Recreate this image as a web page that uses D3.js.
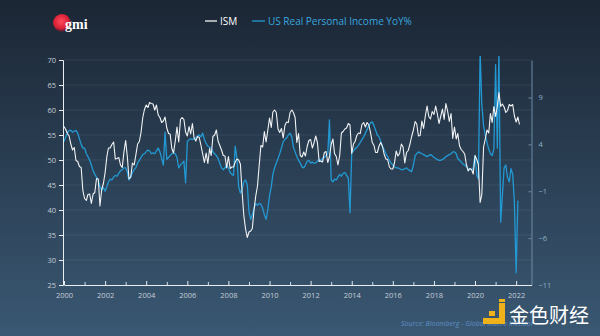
<!DOCTYPE html>
<html><head><meta charset="utf-8">
<script src="https://cdn.jsdelivr.net/npm/d3@7"></script>
<style>html,body{margin:0;padding:0;background:#1c2837;}svg{display:block;}</style>
</head><body>
<svg id="c" width="600" height="336"></svg>
<script>
// ---- DATA (monthly, starting Jan 2000) ----
const startDate = "2000-01-01";
const ismValues = [
 56.7,56.1,55.3,54.8,53.2,52.0,52.5,49.9,49.7,48.7,48.5,43.9,
 42.3,41.9,43.1,43.2,41.3,43.2,43.5,46.3,46.2,40.8,44.1,45.3,
 47.5,50.7,52.4,52.4,53.1,53.6,50.2,50.3,50.5,49.0,48.5,51.6,
 53.9,50.5,46.2,46.6,49.4,49.0,51.0,53.2,53.7,55.5,58.5,60.1,
 61.0,60.5,61.5,61.3,61.2,60.0,61.0,59.0,58.5,57.5,57.8,58.6,
 56.4,55.3,55.2,52.3,51.4,53.8,56.6,53.6,58.1,58.5,58.1,55.6,
 54.8,56.7,55.2,57.3,54.4,53.8,54.7,54.5,52.9,51.2,49.5,51.4,
 49.3,52.3,50.9,54.7,55.0,56.0,53.8,52.9,52.0,50.9,50.8,48.4,
 50.7,48.3,48.6,48.6,49.6,50.2,50.0,49.2,43.5,38.9,36.2,34.5,
 35.6,35.8,36.3,40.1,42.8,44.8,48.9,52.9,52.6,55.7,53.6,55.9,
 58.4,56.5,59.6,60.0,59.5,56.2,55.5,56.3,54.4,56.9,57.6,57.5,
 59.5,60.0,59.5,58.5,53.5,55.3,50.9,50.6,51.6,50.8,52.7,53.9,
 54.1,52.4,53.4,54.8,53.5,49.7,49.8,49.6,51.5,51.7,49.5,50.7,
 53.1,54.2,51.3,50.7,49.0,50.9,55.4,55.7,56.2,56.4,57.3,57.0,
 51.3,53.2,53.7,54.9,55.4,55.3,57.1,57.5,56.6,57.5,57.0,55.5,
 53.5,52.9,51.5,51.5,52.8,53.5,52.7,51.1,50.2,50.1,48.6,48.2,
 48.2,49.5,51.8,50.8,51.3,53.2,52.6,49.4,51.5,51.9,53.2,54.7,
 56.0,57.7,57.2,54.8,54.9,57.8,56.3,58.8,60.8,58.7,58.2,59.7,
 59.1,60.8,59.3,57.3,58.7,60.2,58.1,61.3,59.8,57.7,59.3,54.3,
 56.6,54.2,55.3,52.8,52.1,51.7,51.2,49.1,47.8,48.3,48.1,47.2,
 50.9,50.1,49.1,41.5,43.1,52.6,54.2,56.0,55.4,59.3,57.5,60.7,
 58.7,60.8,63.5,60.7,61.2,60.6,59.5,59.9,61.1,60.8,61.1,58.8,
 57.6,58.6,57.1
];
const incomeValues = [
 4.3,4.8,5.2,5.5,5.5,5.3,5.4,5.5,5.2,4.6,4.0,3.6,
 3.6,3.0,2.7,2.3,1.8,1.2,0.8,0.5,0.2,-0.5,-0.9,-0.6,
 -1.0,-0.5,0.0,0.3,0.2,0.5,0.7,0.6,0.9,1.2,1.3,1.5,
 1.5,1.0,0.2,0.5,1.0,1.3,1.5,2.0,2.3,2.6,2.9,3.0,
 3.2,3.4,3.3,3.0,3.1,3.0,3.3,3.6,3.2,2.5,1.8,5.3,
 2.4,2.6,2.8,3.0,3.1,3.0,2.6,1.5,1.8,2.0,2.2,-0.1,
 4.3,4.5,4.6,4.5,4.6,4.7,4.9,5.0,4.8,5.2,4.5,4.1,
 3.8,3.7,3.6,3.2,3.0,2.8,2.5,2.0,1.5,1.3,1.5,1.8,
 1.5,1.0,0.8,0.7,3.8,2.5,-0.5,-1.2,-0.8,0.0,0.2,-0.3,
 -3.2,-4.0,-3.5,-2.8,-2.3,-2.5,-2.3,-2.4,-2.8,-3.5,-4.0,-3.0,
 -1.5,-0.5,0.8,1.5,2.0,2.5,3.0,3.6,4.3,4.5,4.7,5.0,
 5.2,4.8,3.7,3.2,2.7,2.3,2.0,1.6,1.5,1.8,2.2,2.3,
 2.0,2.1,2.0,2.0,2.2,2.4,2.3,2.5,2.6,2.8,3.0,6.6,
 0.2,0.0,0.3,0.2,0.5,0.8,0.6,0.9,1.0,0.7,0.4,-3.3,
 3.1,3.3,3.5,3.7,3.9,4.2,4.5,4.8,5.2,5.6,6.0,6.3,
 6.4,6.0,5.5,5.0,4.8,4.3,3.8,3.4,3.0,2.7,2.3,2.0,
 1.8,1.6,1.5,1.5,1.4,1.3,1.3,1.4,1.5,1.3,1.2,1.1,
 1.8,2.8,3.0,3.2,3.1,3.0,2.9,2.8,2.7,2.8,2.9,2.8,
 2.6,2.5,2.4,2.3,2.3,2.4,2.5,2.7,2.8,2.9,3.0,3.2,
 3.2,3.0,2.5,2.3,2.1,1.9,1.8,1.6,1.4,1.3,1.3,1.5,
 2.8,0.7,0.3,13.8,8.2,6.0,5.0,4.2,3.5,3.0,2.8,3.5,
 12.5,3.6,13.8,-4.3,-1.5,1.5,1.8,0.5,0.0,1.4,0.8,-2.2,
 -9.7,-2.0
];
const leftTicks = [25,30,35,40,45,50,55,60,65,70];
const rightTicks = [-11,-6,-1,4,9];
const yearLabels = [2000,2002,2004,2006,2008,2010,2012,2014,2016,2018,2020,2022];
const seriesNames = ["ISM","US Real Personal Income YoY%"];
const sourceText = "Source: Bloomberg - Global Macro Investor";
const watermarkText = "金色财经";

// ---- DRAW ----
const svg = d3.select("#c");
const W = 600, H = 336;
const defs = svg.append("defs");
const bg = defs.append("linearGradient").attr("id","bg").attr("x1",0).attr("y1",0).attr("x2",0).attr("y2",1);
bg.append("stop").attr("offset","0%").attr("stop-color","#1b2634");
bg.append("stop").attr("offset","100%").attr("stop-color","#3a5873");
svg.append("rect").attr("width",W).attr("height",H).attr("fill","url(#bg)");

const rg = defs.append("radialGradient").attr("id","logo").attr("cx","45%").attr("cy","40%").attr("r","60%");
rg.append("stop").attr("offset","0%").attr("stop-color","#ff4a5a");
rg.append("stop").attr("offset","70%").attr("stop-color","#d81e35");
rg.append("stop").attr("offset","100%").attr("stop-color","#8a1530").attr("stop-opacity",0.3);

const m = {l:64, r:531.5, t:60, b:285};
const parse = d3.timeParse("%Y-%m-%d");
const t0 = parse(startDate);
const x = d3.scaleTime().domain([t0, parse("2022-10-01")]).range([m.l, m.r]);
const yL = d3.scaleLinear().domain([25,70]).range([m.b, m.t]);
const yR = d3.scaleLinear().domain([-11,13]).range([m.b, m.t]);

const ism = ismValues.map((v,i)=>({d:d3.timeMonth.offset(t0,i), v}));
const inc = incomeValues.map((v,i)=>({d:d3.timeMonth.offset(t0,i), v}));

// grid
svg.append("g").selectAll("line").data(leftTicks.slice(1)).join("line")
  .attr("x1",m.l).attr("x2",m.r).attr("y1",d=>yL(d)).attr("y2",d=>yL(d))
  .attr("stroke","#ffffff").attr("stroke-opacity",0.07).attr("stroke-width",1);

defs.append("clipPath").attr("id","clip").append("rect")
  .attr("x",m.l).attr("y",56).attr("width",m.r-m.l).attr("height",m.b-56);

const plot = svg.append("g").attr("clip-path","url(#clip)");
plot.append("path").datum(inc)
  .attr("d", d3.line().x(d=>x(d.d)).y(d=>yR(d.v)))
  .attr("fill","none").attr("stroke","#2399d4").attr("stroke-width",1.3).attr("stroke-linejoin","round");
plot.append("path").datum(ism)
  .attr("d", d3.line().x(d=>x(d.d)).y(d=>yL(d.v)))
  .attr("fill","none").attr("stroke","#f2f4f6").attr("stroke-width",1.1).attr("stroke-linejoin","round");

// axes
const tickCol = "#c5ced8";
const gL = svg.append("g").attr("transform",`translate(${m.l-1},0)`)
  .call(d3.axisLeft(yL).tickValues(leftTicks).tickSize(4).tickPadding(3));
gL.select(".domain").attr("stroke","#e8edf2");
gL.selectAll(".tick line").attr("stroke","#e8edf2");
gL.selectAll("text").attr("fill",tickCol).style("font-family","Open Sans, sans-serif").style("font-size","7.5px");

const gR = svg.append("g").attr("transform",`translate(${m.r},0)`)
  .call(d3.axisRight(yR).tickValues(rightTicks).tickSizeInner(-3).tickSizeOuter(0).tickPadding(7));
gR.select(".domain").attr("stroke","#6f8aa3");
gR.selectAll(".tick line").attr("stroke","#6f8aa3");
gR.selectAll("text").attr("fill","#8fb0c8").style("font-family","Open Sans, sans-serif").style("font-size","7.5px");

const years = d3.range(2000,2023).map(y=>new Date(y,0,1));
const gXm = svg.append("g").attr("transform",`translate(0,${m.b})`)
  .call(d3.axisBottom(x).tickValues(years.filter(d=>d.getFullYear()%2===1)).tickSizeInner(-3).tickSizeOuter(0).tickFormat(""));
gXm.select(".domain").remove();
gXm.selectAll(".tick line").attr("stroke","#d8e0e8");
const gX = svg.append("g").attr("transform",`translate(0,${m.b})`)
  .call(d3.axisBottom(x).tickValues(yearLabels.map(y=>new Date(y,0,1))).tickSizeInner(-4).tickSizeOuter(0).tickPadding(8).tickFormat(d3.timeFormat("%Y")));
gX.select(".domain").attr("stroke","#e8edf2");
gX.selectAll(".tick line").attr("stroke","#e8edf2");
gX.selectAll("text").attr("fill",tickCol).style("font-family","Open Sans, sans-serif").style("font-size","7.5px");

// legend
const lg = svg.append("g").style("font-family","Open Sans, sans-serif").style("font-size","10px");
lg.append("line").attr("x1",205).attr("x2",217).attr("y1",21).attr("y2",21).attr("stroke","#f2f4f6").attr("stroke-width",1.3);
lg.append("text").attr("x",220).attr("y",24.5).attr("fill","#ffffff").text(seriesNames[0]);
lg.append("line").attr("x1",252).attr("x2",265).attr("y1",21).attr("y2",21).attr("stroke","#2399d4").attr("stroke-width",1.3);
lg.append("text").attr("x",268).attr("y",24.5).attr("fill","#3aa6de").text(seriesNames[1]);

// logo
svg.append("circle").attr("cx",62).attr("cy",23).attr("r",9).attr("fill","url(#logo)");
svg.append("text").attr("x",65).attr("y",29).attr("fill","#ffffff")
  .style("font-family","Liberation Serif, serif").style("font-weight","bold").style("font-size","14px").text("gmi");

// source
svg.append("text").attr("x",401).attr("y",326).attr("fill","#5d8fc4")
  .style("font-family","Open Sans, sans-serif").style("font-style","italic").style("font-size","7px").text(sourceText);

// watermark
const wm = svg.append("g");
wm.append("rect").attr("x",483).attr("y",318).attr("width",22).attr("height",6).attr("fill","#f0b21a");
wm.append("rect").attr("x",499).attr("y",303).attr("width",6).attr("height",21).attr("fill","#f0b21a");
wm.append("rect").attr("x",489).attr("y",311).attr("width",6).attr("height",5).attr("fill","#f0b21a");
wm.append("rect").attr("x",499).attr("y",299).attr("width",6).attr("height",3).attr("fill","#f0b21a");
wm.append("text").attr("x",509).attr("y",323).attr("fill","#ffffff")
  .style("font-family","Noto Sans CJK SC, sans-serif").style("font-size","20px").text(watermarkText);
</script>
</body></html>
